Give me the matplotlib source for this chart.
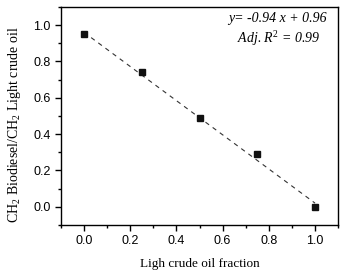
import matplotlib

matplotlib.use("Agg")
import matplotlib.pyplot as plt
import numpy as np
from matplotlib.ticker import MultipleLocator

# data
fraction = [0.0, 0.25, 0.5, 0.75, 1.0]
ch2_ratio = [0.95, 0.74, 0.49, 0.29, 0.0]
slope, intercept = -0.94, 0.96

plt.rcParams["font.family"] = ["Liberation Sans", "DejaVu Sans"]
plt.rcParams["mathtext.fontset"] = "custom"
plt.rcParams["mathtext.rm"] = "Liberation Serif"
plt.rcParams["mathtext.it"] = "Liberation Serif:italic"

fig = plt.figure(figsize=(3.44, 2.75), dpi=100)
ax = fig.add_axes([0.177, 0.182, 0.806, 0.793])

xf = np.array([fraction[0], fraction[-1]])
ax.plot(xf, slope * xf + intercept, ls=(0, (4, 4)), color="#333", lw=0.8)
ax.plot(fraction, ch2_ratio, ls="none", marker="s", ms=5, color="#111")

ax.set_xlim(-0.1, 1.1)
ax.set_ylim(-0.1, 1.1)
ax.xaxis.set_major_locator(MultipleLocator(0.2))
ax.xaxis.set_minor_locator(MultipleLocator(0.1))
ax.yaxis.set_major_locator(MultipleLocator(0.2))
ax.yaxis.set_minor_locator(MultipleLocator(0.1))
ax.tick_params(which="both", direction="out", top=False, right=False,
               labelsize=9, width=1)
ax.tick_params(which="major", length=4)
ax.tick_params(which="minor", length=2.5)
for s in ax.spines.values():
    s.set_linewidth(1)

ax.set_xlabel("Ligh crude oil fraction", family="Liberation Serif", fontsize=9.5, labelpad=8)
ax.set_ylabel("CH$_2$ Biodiesel/CH$_2$ Light crude oil", family="Liberation Serif",
              fontsize=10)
ax.yaxis.set_label_coords(-0.135, 0.46)

ax.text(0.96, 0.945, "y= -0.94 x + 0.96", transform=ax.transAxes, ha="right",
        va="center", family="Liberation Serif", style="italic", fontsize=10)
ax.text(0.935, 0.855, "Adj. R$^{2}$ = 0.99", transform=ax.transAxes, ha="right",
        va="center", family="Liberation Serif", style="italic", fontsize=10)

fig.savefig("out.png", dpi=100)
